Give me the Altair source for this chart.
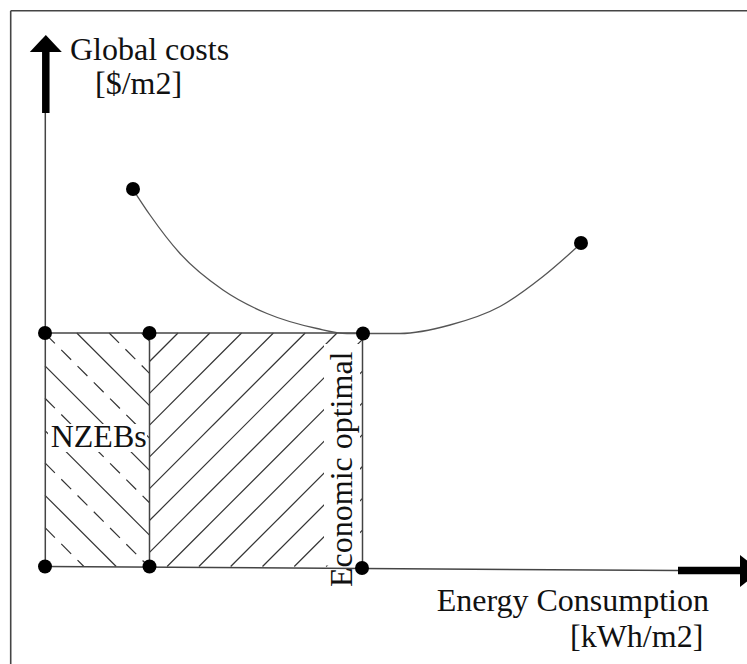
import altair as alt
import pandas as pd

# ---------------- data (diagram units: energy to the right, cost upwards; origin at axes crossing)
X_DOMAIN = [-45, 702]
Y_DOMAIN = [-97.5, 566.5]

# marked points
dot_x = [0, 104.5, 318, 0, 104.5, 317, 88, 536]
dot_y = [233.5, 233.5, 233, 0, 0, -1.5, 377.5, 323.5]

# global cost curve
curve_x = [88, 105, 135, 178, 222, 272, 302, 317, 355, 405, 455, 498, 536]
curve_y = [377, 351.5, 313, 276.5, 253, 238, 233, 233, 233, 241.5, 260, 290, 323]

# regions
nzeb_x = [0, 104.5]
opt_x = [104.5, 317.5]
region_y = [0, 233.5]

# axes
y_axis_top = 453.5
y_arrow_shaft = [453.5, 514.5]
x_axis_end = [633, -4.0]
x_arrow_shaft = [633, 695]

# labels
label_text = ["Global costs", "[$/m2]", "Energy Consumption", "[kWh/m2]", "NZEBs"]
label_x = [25, 50, 391.7, 525, 5.7]
label_y = [506.5, 472.5, -44.5, -80, 119.2]
vlabel_text = ["Economic optimal"]
vlabel_x = [307]
vlabel_y = [-20.5]

# ---------------- hatch patterns (derived from region bounds)
def hatch_left():
    solid, dashed = [], []
    for j in range(0, 11):
        d = 330 - 32.35 * j
        x0 = max(nzeb_x[0], d - region_y[1])
        x1 = min(nzeb_x[1], d - region_y[0])
        if x1 <= x0:
            continue
        row = dict(x=x0, y=d - x0, x2=x1, y2=d - x1)
        (solid if j % 2 == 0 else dashed).append(row)
    return pd.DataFrame(solid), pd.DataFrame(dashed)

def hatch_right():
    rows = []
    for k in range(0, 15):
        e = -100.5 + 31.8 * k
        x0 = max(opt_x[0], e + region_y[0])
        x1 = min(opt_x[1], e + region_y[1])
        if x1 <= x0:
            continue
        rows.append(dict(x=x0, y=x0 - e, x2=x1, y2=x1 - e))
    return pd.DataFrame(rows)

hl_solid, hl_dash = hatch_left()
hr = hatch_right()

xs = alt.Scale(domain=X_DOMAIN, nice=False, zero=False)
ys = alt.Scale(domain=Y_DOMAIN, nice=False, zero=False)

def X(f="x"):
    return alt.X(f + ":Q", scale=xs, axis=None)

def Y(f="y"):
    return alt.Y(f + ":Q", scale=ys, axis=None)

def segs(df, **kw):
    return alt.Chart(df).mark_rule(**kw).encode(
        x=X(), y=Y(), x2=alt.X2("x2"), y2=alt.Y2("y2"))

HATCH = "#333333"
LINE = "#444444"

layers = []
layers.append(segs(hl_solid, color=HATCH, strokeWidth=1.2))
layers.append(segs(hl_dash, color=HATCH, strokeWidth=1.2, strokeDash=[14, 9]))
layers.append(segs(hr, color=HATCH, strokeWidth=1.2))

# white backing behind labels
boxes = pd.DataFrame({"x": [3, 279], "x2": [102, 315], "y": [114.5, 1], "y2": [142.5, 222.5]})
layers.append(alt.Chart(boxes).mark_rect(color="white").encode(
    x=X(), y=Y(), x2=alt.X2("x2"), y2=alt.Y2("y2")))

# frame around the image (left and top edges visible)
border = pd.DataFrame({"x": [-34.3, -34.3], "y": [555.8, 555.8], "x2": [-34.3, 760], "y2": [-140, 555.8]})
layers.append(segs(border, color="#444444", strokeWidth=1.6))

# region outlines and axes
outline = pd.DataFrame({
    "x": [nzeb_x[0], nzeb_x[1], opt_x[1], 0.3, 0],
    "y": [region_y[1], region_y[0], region_y[0] - 1.5, 0, 0],
    "x2": [opt_x[1], nzeb_x[1], opt_x[1], 0.3, x_axis_end[0]],
    "y2": [region_y[1], region_y[1], region_y[1], y_axis_top, x_axis_end[1]],
})
layers.append(segs(outline, color=LINE, strokeWidth=1.5))

# thick arrow shafts
shafts = pd.DataFrame({
    "x": [0.8, x_arrow_shaft[0]], "y": [y_arrow_shaft[0], -4.0],
    "x2": [0.8, x_arrow_shaft[1]], "y2": [y_arrow_shaft[1], -4.0],
})
layers.append(segs(shafts, color="black", strokeWidth=7.5))

# arrow heads
up_head = pd.DataFrame({"x": [0.8], "y": [523]})
layers.append(alt.Chart(up_head).mark_point(
    shape="M-1,0.53L0,-0.53L1,0.53Z", filled=True, color="black", opacity=1,
    size=1024, strokeWidth=0).encode(x=X(), y=Y()))
right_head = pd.DataFrame({"x": [705], "y": [-4.5]})
layers.append(alt.Chart(right_head).mark_point(
    shape="M-0.625,-1L0.625,0L-0.625,1Z", filled=True, color="black", opacity=1,
    size=1024, strokeWidth=0).encode(x=X(), y=Y()))

# cost curve
curve = pd.DataFrame({"x": curve_x, "y": curve_y, "o": list(range(len(curve_x)))})
layers.append(alt.Chart(curve).mark_line(color="#555555", strokeWidth=1.3, interpolate="monotone").encode(
    x=X(), y=Y(), order="o:Q"))

# dots
dots = pd.DataFrame({"x": dot_x, "y": dot_y})
layers.append(alt.Chart(dots).mark_circle(color="black", opacity=1, size=195).encode(x=X(), y=Y()))

# labels
labels = pd.DataFrame({"x": label_x, "y": label_y, "t": label_text})
layers.append(alt.Chart(labels).mark_text(
    font="Liberation Serif", fontSize=32, align="left", baseline="alphabetic", color="#111111").encode(
    x=X(), y=Y(), text="t:N"))
vlabels = pd.DataFrame({"x": vlabel_x, "y": vlabel_y, "t": vlabel_text})
layers.append(alt.Chart(vlabels).mark_text(
    font="Liberation Serif", fontSize=32, align="left", baseline="alphabetic", angle=270,
    color="#111111").encode(x=X(), y=Y(), text="t:N"))

chart = alt.layer(*layers).properties(
    width=747, height=664, padding=0, autosize=alt.AutoSizeParams(type="none"),
    background="white",
).configure_view(stroke=None)

chart.save("out.html", embed_options={"renderer": "svg", "actions": False})
